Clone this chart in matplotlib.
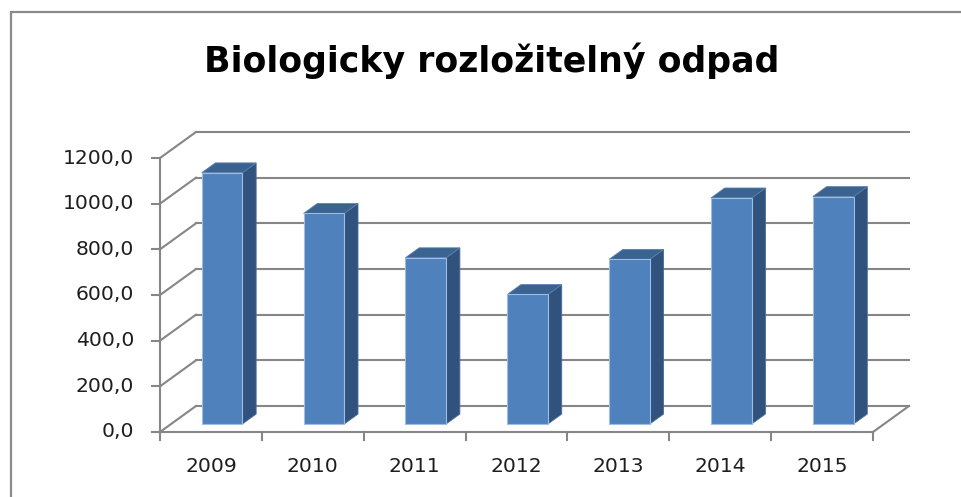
import matplotlib
matplotlib.use('Agg')
import matplotlib.pyplot as plt
from matplotlib.patches import Polygon, Rectangle

years = ['2009', '2010', '2011', '2012', '2013', '2014', '2015']
values = [1100, 922, 728, 567, 721, 990, 996]
y_ticks = [0, 200, 400, 600, 800, 1000, 1200]
title = 'Biologicky rozložitelný odpad'

W, H = 961, 497
fig = plt.figure(figsize=(W / 100, H / 100), dpi=100)
ax = fig.add_axes([0, 0, 1, 1])
ax.set_xlim(-1.5708, 7.8637)
ax.set_ylim(-284.7, 1892.0)
ax.axis('off')

# oblique depth offset (in data units) and bar placement in depth
DX, DY = 0.3534, 113.9
z0, dz = 0.31, 0.38
grid_c = '#868686'
lw = 1.5
txt_c = '#1e1e1e'

# outer chart border (only top and left visible)
fig.add_artist(Rectangle((11 / W, -0.1), 1.2, 1 - 12 / H + 0.1,
                         transform=fig.transFigure, fill=False,
                         edgecolor='#8a8a8a', lw=1.6))

n = len(years)
# back wall + left wall gridlines
for v in y_ticks:
    ax.plot([DX, n + DX], [v + DY, v + DY], color=grid_c, lw=lw, zorder=1)
    ax.plot([0, DX], [v, v + DY], color=grid_c, lw=lw, zorder=1)
# floor right edge
ax.plot([n, n + DX], [0, DY], color=grid_c, lw=lw, zorder=1)
# front axes
ax.plot([0, 0], [0, y_ticks[-1]], color=grid_c, lw=lw, zorder=1)
ax.plot([0, n], [0, 0], color=grid_c, lw=lw, zorder=1)
for v in y_ticks:
    ax.plot([-0.0785, 0], [v, v], color=grid_c, lw=lw, zorder=1)
    ax.text(-0.255, v, f'{v:.1f}'.replace('.', ','), ha='right', va='center',
            fontsize=14.6, family='DejaVu Sans', color=txt_c)
for i in range(n + 1):
    ax.plot([i, i], [0, -35], color=grid_c, lw=lw, zorder=1)

# bars
for i, (yr, val) in enumerate(zip(years, values)):
    x0 = i + 0.3 + z0 * DX
    x1 = i + 0.7 + z0 * DX
    yb = z0 * DY
    ox, oy = dz * DX, dz * DY
    side = [(x1, yb), (x1 + ox, yb + oy), (x1 + ox, yb + oy + val), (x1, yb + val)]
    top = [(x0, yb + val), (x1, yb + val), (x1 + ox, yb + oy + val), (x0 + ox, yb + oy + val)]
    front = [(x0, yb), (x1, yb), (x1, yb + val), (x0, yb + val)]
    ax.add_patch(Polygon(side, closed=True, facecolor='#30527c', edgecolor='#4a6d98', lw=0.6, zorder=3))
    ax.add_patch(Polygon(top, closed=True, facecolor='#3a6391', edgecolor='#5b80ad', lw=0.6, zorder=3))
    ax.add_patch(Polygon(front, closed=True, facecolor='#4f81bd', edgecolor='#9dbde2', lw=0.8, zorder=4))
    ax.text(i + 0.5, -153, yr, ha='center', va='center', fontsize=14.6,
            family='DejaVu Sans', color=txt_c)

fig.text(492 / W, 1 - 72 / H, title, ha='center', va='baseline',
         fontsize=25, fontweight='bold', family='DejaVu Sans', color='black')

fig.savefig('out.png', dpi=100)
